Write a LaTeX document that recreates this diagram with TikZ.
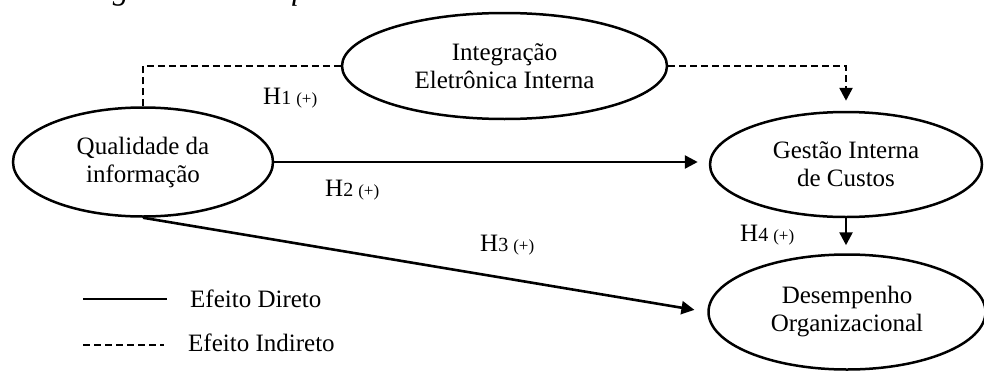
\documentclass[tikz,border=0pt]{standalone}
\usepackage{fontspec}
\setmainfont{Liberation Serif}
\usetikzlibrary{arrows.meta,shapes.geometric}
\begin{document}
\begin{tikzpicture}[x=1pt,y=-1pt,
  construct/.style={ellipse, draw, line width=2.5pt, inner sep=0pt, align=center,
    font=\fontsize{25}{28}\selectfont},
  link/.style={line width=2.6pt, -{Triangle[length=13pt,width=13pt]}},
  indirect/.style={link, dash pattern=on 7pt off 4pt},
  hyp/.style={anchor=west, inner sep=0pt, font=\fontsize{25}{28}\selectfont},
  legline/.style={line width=2.8pt},
  legtext/.style={anchor=west, inner sep=0pt, font=\fontsize{25}{28}\selectfont}]
\useasboundingbox (0,0) rectangle (984,372);

% cropped caption at the top edge
\node[anchor=base east, inner sep=0pt, font=\fontsize{32}{36}\selectfont\itshape] (cap) at (353,-1) {Hipóteses Investigadas na Pesquisa};

% constructs
\node[construct, minimum width=260pt, minimum height=109pt] (QI) at (143,162) {Qualidade da\\informação};
\node[construct, minimum width=325pt, minimum height=106pt] (IEI) at (504.5,66) {Integração\\Eletrônica Interna};
\node[construct, minimum width=272pt, minimum height=105pt] (GIC) at (846,164.5) {Gestão Interna\\de Custos};
\node[construct, minimum width=277pt, minimum height=115pt] (DO) at (847,312) {Desempenho\\Organizacional};

% connectors
\draw[legline, line width=2.6pt, dash pattern=on 7pt off 4pt] (QI.north) |- (IEI.west);
\draw[indirect, shorten >=10pt] (IEI.east) -| (GIC.north);
\draw[link, shorten >=11pt] (QI.east) -- (QI.east -| GIC.west);
\draw[link, shorten >=13pt] (QI.south) -- (DO.west);
\draw[link, shorten >=8pt] (GIC.south) -- (GIC.south |- DO.north);

% hypothesis labels
\node[hyp] (h1) at (263,98) {H{\fontsize{20}{22}\selectfont 1 \fontsize{17}{18}\selectfont(+)}};
\node[hyp] (h2) at (325,190) {H{\fontsize{20}{22}\selectfont 2 \fontsize{17}{18}\selectfont(+)}};
\node[hyp] (h3) at (480,245) {H{\fontsize{20}{22}\selectfont 3 \fontsize{17}{18}\selectfont(+)}};
\node[hyp] (h4) at (740,235) {H{\fontsize{20}{22}\selectfont 4 \fontsize{17}{18}\selectfont(+)}};

% legend
\coordinate (l1a) at (83,299);
\coordinate (l1b) at (167,299);
\coordinate (l2a) at (83,345);
\coordinate (l2b) at (164,345);
\draw[legline] (l1a) -- (l1b);
\draw[legline, dash pattern=on 7pt off 4pt] (l2a) -- (l2b);
\node[legtext] (t1) at (190,299) {Efeito Direto};
\node[legtext] (t2) at (188,343) {Efeito Indireto};
\end{tikzpicture}
\end{document}
